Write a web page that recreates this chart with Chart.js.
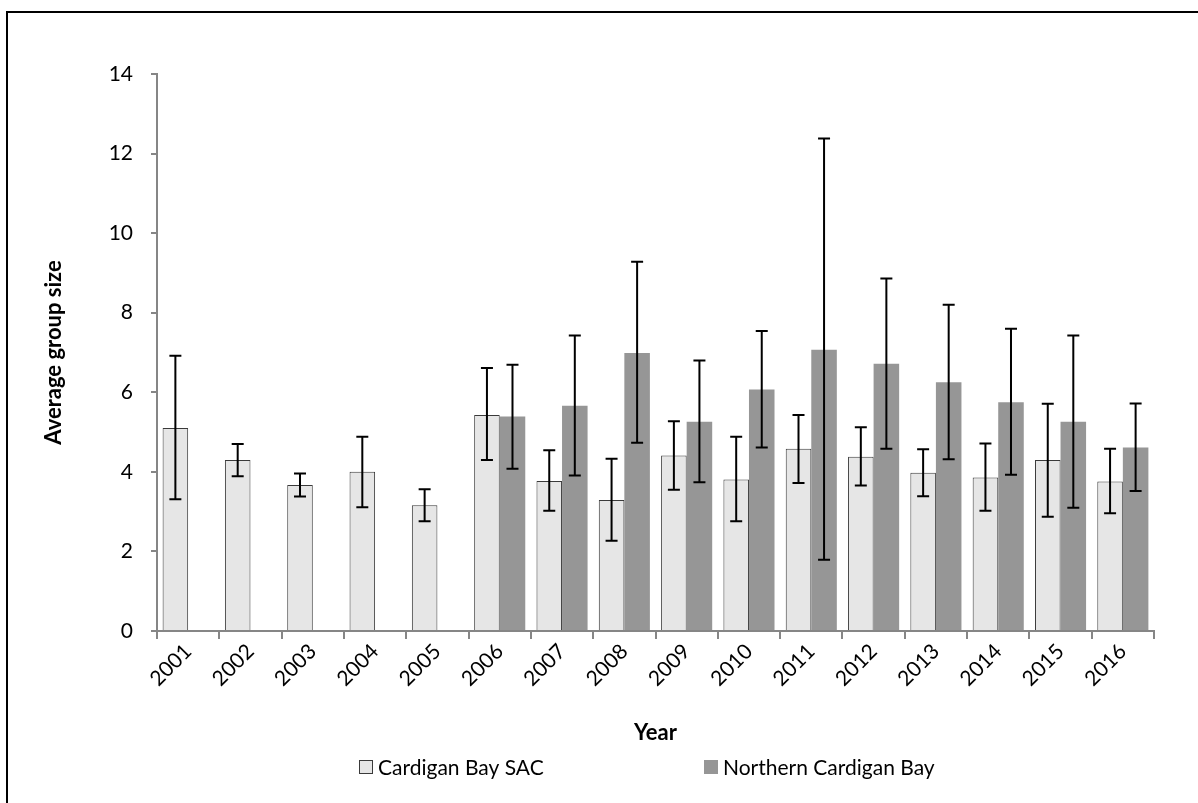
<!DOCTYPE html>
<html>
<head>
<meta charset="utf-8">
<script src="https://cdn.jsdelivr.net/npm/chart.js@4.4.1/dist/chart.umd.min.js"></script>
<style>
  html, body { margin: 0; padding: 0; background: #fff; overflow: hidden; }
  #wrap { position: relative; width: 1198px; height: 803px; overflow: hidden; }
  #frame { position: absolute; left: 6px; top: 11px; width: 1300px; height: 900px;
           border: 2px solid #000; pointer-events: none; }
  canvas { position: absolute; left: 0; top: 0; }
</style>
</head>
<body>
<div id="wrap">
  <canvas id="myChart" width="1198" height="803"></canvas>
  <div id="frame"></div>
</div>
<script>
// --- data ---
const years = ['2001','2002','2003','2004','2005','2006','2007','2008',
               '2009','2010','2011','2012','2013','2014','2015','2016'];

const sacMean = [5.10, 4.30, 3.67, 4.00, 3.16, 5.43, 3.77, 3.29, 4.41, 3.81, 4.58, 4.38, 3.98, 3.86, 4.30, 3.76];
const sacHigh = [6.92, 4.70, 3.96, 4.88, 3.56, 6.61, 4.54, 4.33, 5.27, 4.88, 5.43, 5.12, 4.57, 4.71, 5.71, 4.58];
const sacLow  = [3.31, 3.89, 3.38, 3.11, 2.76, 4.30, 3.02, 2.27, 3.55, 2.76, 3.72, 3.66, 3.39, 3.02, 2.87, 2.96];

const ncbMean = [null, null, null, null, null, 5.39, 5.66, 6.99, 5.26, 6.07, 7.07, 6.72, 6.25, 5.75, 5.26, 4.61];
const ncbHigh = [null, null, null, null, null, 6.69, 7.43, 9.28, 6.80, 7.54, 12.38, 8.86, 8.20, 7.60, 7.43, 5.72];
const ncbLow  = [null, null, null, null, null, 4.08, 3.91, 4.73, 3.74, 4.61, 1.79, 4.58, 4.32, 3.93, 3.10, 3.52];

const yTicks = [0, 2, 4, 6, 8, 10, 12, 14];

const FONT = "Lato, 'Open Sans', sans-serif";
Chart.defaults.font.family = FONT;
Chart.defaults.color = '#000';

// error bars, placed with the y scale
const errorBars = {
  id: 'errorBars',
  afterDatasetsDraw(chart) {
    const ctx = chart.ctx;
    const yScale = chart.scales.y;
    chart.data.datasets.forEach((ds, i) => {
      const meta = chart.getDatasetMeta(i);
      meta.data.forEach((bar, j) => {
        if (ds.errHigh[j] == null) return;
        const yHi = yScale.getPixelForValue(ds.errHigh[j]);
        const yLo = yScale.getPixelForValue(ds.errLow[j]);
        ctx.save();
        ctx.strokeStyle = '#000';
        ctx.lineWidth = 2;
        ctx.beginPath();
        ctx.moveTo(bar.x, yHi); ctx.lineTo(bar.x, yLo);
        ctx.moveTo(bar.x - 6, yHi); ctx.lineTo(bar.x + 6, yHi);
        ctx.moveTo(bar.x - 6, yLo); ctx.lineTo(bar.x + 6, yLo);
        ctx.stroke();
        ctx.restore();
      });
    });
  }
};

// legend like the spreadsheet one (wide gap between the two entries)
const wideLegend = {
  id: 'wideLegend',
  afterDraw(chart) {
    const ctx = chart.ctx;
    const y = 767;
    const starts = [359, 704];
    ctx.save();
    ctx.font = '21px ' + FONT;
    ctx.textBaseline = 'middle';
    chart.data.datasets.forEach((ds, i) => {
      const x = starts[i];
      ctx.fillStyle = ds.backgroundColor;
      ctx.fillRect(x, y - 7, 14, 14);
      if (ds.borderWidth) {
        ctx.strokeStyle = ds.borderColor;
        ctx.lineWidth = 1;
        ctx.strokeRect(x + 0.5, y - 6.5, 13, 13);
      }
      ctx.fillStyle = '#000';
      ctx.fillText(ds.label, x + 19, y + 1);
    });
    ctx.restore();
  }
};

new Chart(document.getElementById('myChart').getContext('2d'), {
  type: 'bar',
  data: {
    labels: years,
    datasets: [
      {
        label: 'Cardigan Bay SAC',
        data: sacMean,
        errHigh: sacHigh,
        errLow: sacLow,
        backgroundColor: '#e6e6e6',
        borderColor: '#3a3a3a',
        borderWidth: 1,
        categoryPercentage: 0.82,
        barPercentage: 1.0
      },
      {
        label: 'Northern Cardigan Bay',
        data: ncbMean,
        errHigh: ncbHigh,
        errLow: ncbLow,
        backgroundColor: '#969696',
        borderWidth: 0,
        categoryPercentage: 0.82,
        barPercentage: 1.0
      }
    ]
  },
  options: {
    responsive: false,
    animation: false,
    layout: { padding: { left: 37, right: 44, top: 74, bottom: 53 } },
    plugins: {
      legend: { display: false },
      tooltip: { enabled: false }
    },
    scales: {
      x: {
        grid: { display: true, drawOnChartArea: false, drawTicks: true, tickLength: 8, color: '#868686', lineWidth: 2 },
        border: { color: '#868686', width: 2 },
        ticks: { font: { size: 21 }, minRotation: 45, maxRotation: 45, padding: 0 },
        title: { display: true, text: 'Year', font: { size: 22, weight: 'bold' }, padding: { top: 4, bottom: 4 } },
        afterFit(scale) { scale.height = 119; }
      },
      y: {
        min: 0,
        max: 14,
        afterBuildTicks(scale) { scale.ticks = yTicks.map(v => ({ value: v })); },
        grid: { display: true, drawOnChartArea: false, drawTicks: true, tickLength: 6, color: '#868686', lineWidth: 2 },
        border: { color: '#868686', width: 2 },
        ticks: { font: { size: 21 }, padding: 18 },
        title: { display: true, text: 'Average group size', font: { size: 22, weight: 'bold' }, padding: { top: 4, bottom: 4 } },
        afterFit(scale) { scale.width = 120; }
      }
    }
  },
  plugins: [errorBars, wideLegend]
});
</script>
</body>
</html>
